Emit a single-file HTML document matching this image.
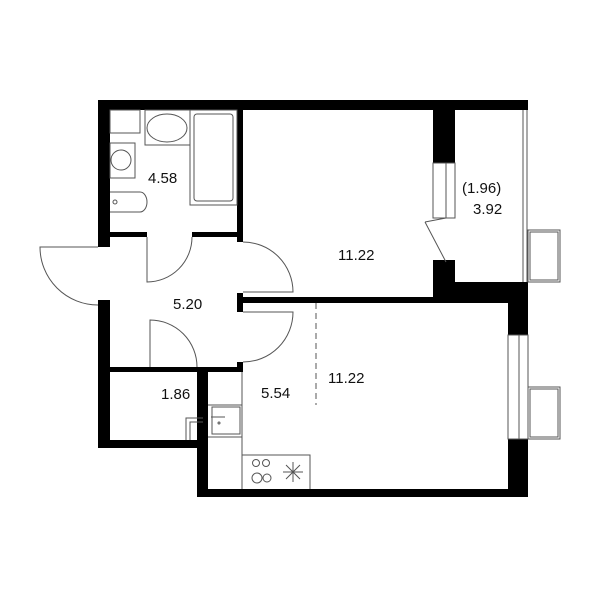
<!DOCTYPE html>
<html><head><style>body{margin:0;background:#fff}svg{display:block}text{font-family:"Liberation Sans",sans-serif;font-size:15px;fill:#111}</style></head><body>
<svg width="600" height="600" viewBox="0 0 600 600" xmlns="http://www.w3.org/2000/svg">
<g fill="#000">
<rect x="98" y="100" width="430" height="10"/>
<rect x="98" y="100" width="12" height="147"/>
<rect x="98" y="300" width="12" height="148"/>
<rect x="98" y="440" width="110" height="8"/>
<rect x="110" y="232" width="37" height="5"/>
<rect x="192" y="232" width="51" height="5"/>
<rect x="237" y="110" width="6" height="132"/>
<rect x="237" y="293" width="6" height="19"/>
<rect x="237" y="297" width="200" height="6"/>
<rect x="433" y="110" width="22" height="53"/>
<rect x="433" y="260" width="22" height="43"/>
<rect x="433" y="282" width="95" height="21"/>
<rect x="508" y="282" width="20" height="53"/>
<rect x="508" y="439" width="20" height="58"/>
<rect x="197" y="489" width="331" height="8"/>
<rect x="197" y="367" width="11" height="130"/>
<rect x="110" y="367" width="132" height="5"/>
<rect x="237" y="362" width="6" height="10"/>
</g>
<g fill="none" stroke="#555" stroke-width="1">
<rect x="433" y="163" width="13" height="55"/><rect x="446" y="163" width="9" height="55"/>
<line x1="425" y1="222" x2="446" y2="262"/><line x1="425" y1="222" x2="446" y2="218"/>
<line x1="523" y1="110" x2="523" y2="282"/><line x1="527" y1="110" x2="527" y2="282"/>
<rect x="528" y="230" width="32" height="52"/><rect x="530" y="232" width="28" height="48"/>
<rect x="508" y="335" width="11" height="104"/><rect x="519" y="335" width="9" height="104"/>
<rect x="528" y="387" width="32" height="52"/><rect x="530" y="389" width="28" height="48"/>
<path d="M98 247 H40 A58 58 0 0 0 98 305"/>
<path d="M147 237 V282 A45 45 0 0 0 192 237"/>
<path d="M243 242 A50 50 0 0 1 293 292 H243"/>
<path d="M243 312 H293 A50 50 0 0 1 243 362"/>
<path d="M150 367 V320 A47 47 0 0 1 197 367"/>
<line x1="316" y1="303" x2="316" y2="405" stroke-dasharray="6,4"/>
<path d="M242 372 V489 M242 455 H310 V489 M208 405 H242 M208 437 H242"/>
<rect x="212" y="407" width="28" height="27"/>
<line x1="211" y1="417" x2="225" y2="417"/><circle cx="219" cy="423" r="1"/>
<path d="M186 440 V418 H203 M190 440 V422 H203"/>
<circle cx="256" cy="463" r="3.5"/><circle cx="266" cy="463" r="3.5"/><circle cx="257" cy="478" r="5"/><circle cx="267" cy="478" r="4"/>
<path d="M293 462 V482 M283 472 H303 M286 465 L300 479 M300 465 L286 479"/>
<rect x="145" y="110" width="45" height="35"/><ellipse cx="167" cy="128" rx="20" ry="14"/>
<rect x="190" y="110" width="47" height="95"/><rect x="194" y="114" width="39" height="87" rx="3"/>
<rect x="110" y="110" width="30" height="23"/><rect x="110" y="143" width="25" height="35"/><circle cx="121" cy="160" r="10"/>
<path d="M110 192 H140 A7 10 0 0 1 140 212 H110"/><circle cx="115" cy="202" r="2"/>
</g>
<text x="148" y="183">4.58</text>
<text x="338" y="260">11.22</text>
<text x="462" y="193">(1.96)</text>
<text x="473" y="214">3.92</text>
<text x="173" y="309">5.20</text>
<text x="328" y="383">11.22</text>
<text x="261" y="398">5.54</text>
<text x="161" y="399">1.86</text>
</svg>
</body></html>
